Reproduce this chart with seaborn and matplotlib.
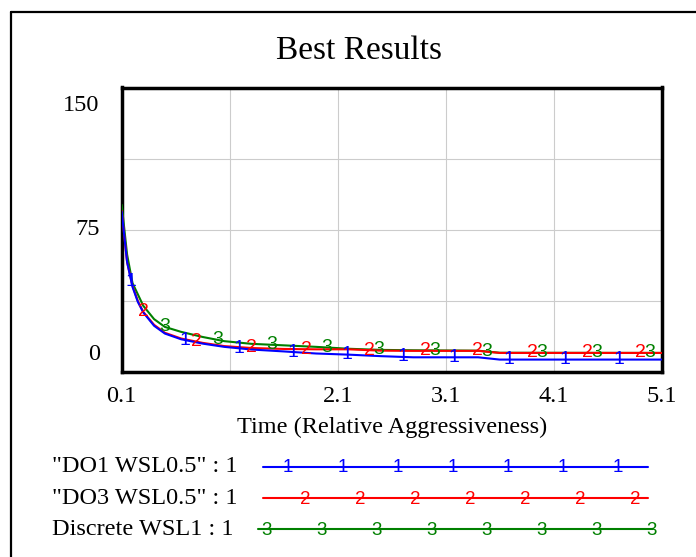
import numpy as np
import pandas as pd
import matplotlib
matplotlib.use("Agg")
import matplotlib.pyplot as plt
import matplotlib.transforms as mtransforms
from matplotlib.lines import Line2D
import seaborn as sns

# ── Data ──────────────────────────────────────────────────
time = [0.1, 0.15, 0.2, 0.25, 0.3, 0.4, 0.5, 0.65, 0.85, 1.05, 1.3,
        1.6, 1.9, 2.2, 2.5, 2.8, 3.4, 3.6, 5.1]
do1 = [84.6, 58, 45, 37, 31.5, 24.5, 20.4, 17.4, 15.1, 13.4, 12.0,
       11.0, 9.9, 9.3, 8.5, 7.9, 7.9, 6.7, 6.7]
do3 = [85.0, 58, 45.5, 37.5, 31.8, 25.0, 20.8, 17.8, 15.5, 13.8, 12.8,
       12.3, 12.1, 12.1, 11.4, 11.3, 11.3, 10.2, 10.2]
discrete = [88.2, 62, 47, 41, 35, 28.0, 23.9, 21.3, 18.6, 16.4, 15.0,
            14.2, 13.4, 12.4, 11.8, 11.6, 11.4, 10.3, 10.2]

names = ['"DO1 WSL0.5" : 1', '"DO3 WSL0.5" : 1', 'Discrete WSL1 : 1']
digits = ["1", "2", "3"]
colors = ["#0000ff", "#ff0000", "#008000"]

# positions of the number markers along each line (time units)
marks_do1 = [0.19, 0.69, 1.19, 1.69, 2.19, 2.70, 3.18, 3.69, 4.20, 4.70]
marks_do3 = [0.30, 0.79, 1.30, 1.81, 2.39, 2.91, 3.39, 3.90, 4.41, 4.90]
marks_disc = [0.50, 0.99, 1.49, 2.00, 2.48, 3.00, 3.48, 3.99, 4.50, 4.99]

x_ticks = [0.1, 1.1, 2.1, 3.1, 4.1, 5.1]
x_labels = ["0.1", "", "2.1", "3.1", "4.1", "5.1"]
y_grid = [0, 37.5, 75, 112.5, 150]
y_labels = [0, 75, 150]

df = pd.DataFrame({
    "time": time * 3,
    "value": do1 + do3 + discrete,
    "serie": [names[0]] * len(time) + [names[1]] * len(time) + [names[2]] * len(time),
})
series = [do1, do3, discrete]
marks = [marks_do1, marks_do3, marks_disc]

# ── Style ─────────────────────────────────────────────────
sns.set_theme(style="white")
plt.rcParams["font.family"] = ["Liberation Serif", "DejaVu Serif"]
plt.rcParams["text.color"] = "black"
plt.rcParams["xtick.color"] = "black"
plt.rcParams["ytick.color"] = "black"
plt.rcParams["axes.labelcolor"] = "black"
SERIF = 17.5
MARK_FONT = ["Liberation Sans", "DejaVu Sans"]

fig = plt.figure(figsize=(6.96, 5.57), dpi=100)
W, H = 696, 557
ax = fig.add_axes([121.7 / W, 1 - 372.3 / H, 540 / W, 284.8 / H])

# green under red under blue
for i in [2, 1, 0]:
    sub = df[df["serie"] == names[i]]
    sns.lineplot(data=sub, x="time", y="value", color=colors[i], lw=1.5,
                 ax=ax, zorder=3 + (2 - i), legend=False)
    yy = np.interp(marks[i], time, series[i])
    for mx, my in zip(marks[i], yy):
        ax.text(mx, my, digits[i], color=colors[i], ha="center", va="center",
                fontsize=14, family=MARK_FONT, zorder=10)

ax.set_xlim(0.1, 5.1)
ax.set_ylim(0, 150)
ax.set_xticks(x_ticks)
ax.set_xticklabels(x_labels, fontsize=SERIF)
ax.set_yticks(y_grid)
ax.set_yticklabels([])
ax.tick_params(axis="both", length=0)
ax.tick_params(axis="x", pad=10)
ax.grid(True, color="#cccccc", lw=0.8)
for s in ax.spines.values():
    s.set_visible(True)
    s.set_color("black")
    s.set_linewidth(2.5)
ax.set_xlabel("Time (Relative Aggressiveness)", fontsize=SERIF)
ax.set_ylabel("")
ax.xaxis.set_label_coords(0.5, -(427 - 372.3) / 284.8)
ax.xaxis.label.set_va("center")

# y labels: Vensim keeps the end labels inside the axis range
ytrans = mtransforms.blended_transform_factory(ax.transAxes, ax.transData)
label_shift = {0: 18, 75: 0, 150: -18.5}
for v in y_labels:
    off = mtransforms.ScaledTranslation(-22 / 100, label_shift[v] / 100,
                                        fig.dpi_scale_trans)
    ax.text(0, v, str(v), transform=ytrans + off, ha="right", va="center",
            fontsize=SERIF)

fig.text(359.5 / W, 1 - 51 / H, "Best Results", fontsize=24,
         ha="center", va="center")

# ── Overlay in pixel coordinates: outer frame + legend ────
ov = fig.add_axes([0, 0, 1, 1])
ov.set_xlim(0, W)
ov.set_ylim(H, 0)
ov.axis("off")
ov.patch.set_alpha(0)
ov.add_line(Line2D([11, 11], [12, H], color="black", lw=1.6))
ov.add_line(Line2D([11, W], [12, 12], color="black", lw=1.6))

rows_y = [466.7, 498.3, 529.3]
line_span = [(263, 648), (263, 648), (258, 653)]
first_mark = [288.3, 305, 266.7]
n_marks = [7, 7, 8]
for i in range(3):
    y = rows_y[i]
    ov.text(52, y, names[i], fontsize=SERIF, ha="left", va="center")
    ov.add_line(Line2D(list(line_span[i]), [y, y], color=colors[i], lw=1.5))
    for k in range(n_marks[i]):
        ov.text(first_mark[i] + 55 * k, y + 1, digits[i], color=colors[i],
                ha="center", va="center", fontsize=13.5, family=MARK_FONT)

fig.savefig("out.png", dpi=100)
